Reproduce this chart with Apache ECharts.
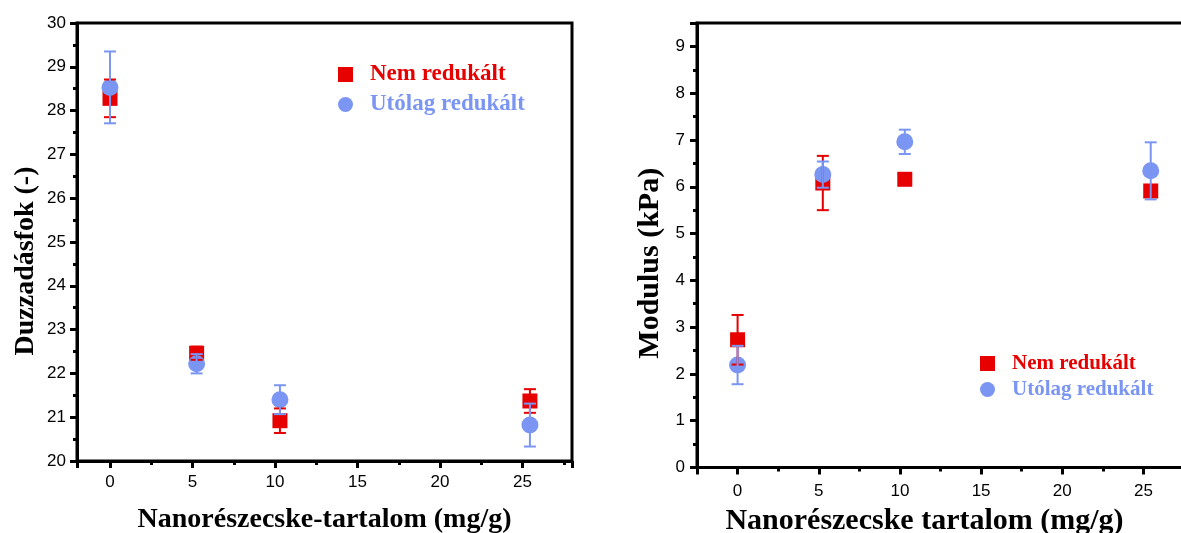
<!DOCTYPE html>
<html>
<head>
<meta charset="utf-8">
<script src="https://cdn.jsdelivr.net/npm/echarts@6/dist/echarts.min.js"></script>
<style>
  html, body { margin: 0; padding: 0; background: #fff; }
  #chart { width: 1181px; height: 533px; }
</style>
</head>
<body>
<div id="chart"></div>
<script>
// Swelling degree (left panel)
const swellX = [0, 5.25, 10.3, 25.45];
const swellNemMean = [28.28, 22.46, 20.92, 21.37];
const swellNemErr = [0.43, 0.15, 0.28, 0.27];
const swellUtoMean = [28.53, 22.22, 21.40, 20.82];
const swellUtoErr = [0.82, 0.22, 0.33, 0.49];

// Modulus (right panel)
const modX = [0, 5.25, 10.3, 25.45];
const modNemMean = [2.73, 6.08, 6.16, 5.91];
const modNemErr = [0.53, 0.58, 0.08, 0.12];
const modUtoMean = [2.19, 6.26, 6.96, 6.34];
const modUtoErr = [0.41, 0.28, 0.26, 0.61];

// Tick values
const xMajorTicks = [0, 5, 10, 15, 20, 25];
const xMinorTicks = [2.5, 7.5, 12.5, 17.5, 22.5, 27.5];
const swellYMajor = [20, 21, 22, 23, 24, 25, 26, 27, 28, 29, 30];
const swellYMinor = [20.5, 21.5, 22.5, 23.5, 24.5, 25.5, 26.5, 27.5, 28.5, 29.5];
const modYMajor = [0, 1, 2, 3, 4, 5, 6, 7, 8, 9];
const modYMinor = [0.5, 1.5, 2.5, 3.5, 4.5, 5.5, 6.5, 7.5, 8.5];

const seriesNames = ['Nem redukált', 'Utólag redukált'];
const RED = '#e60000';
const BLUE = '#7b95f2';
const SERIF = "'Liberation Serif', 'Times New Roman', serif";
const SANS = "'Liberation Sans', Arial, sans-serif";

const pairs = (xs, ys) => xs.map((x, i) => [x, ys[i]]);
const errRows = (xs, m, e) => xs.map((x, i) => [x, m[i] - e[i], m[i] + e[i]]);

function errorBar(color) {
  return function (params, api) {
    const x = api.value(0);
    const lo = api.coord([x, api.value(1)]);
    const hi = api.coord([x, api.value(2)]);
    const cap = 6;
    const st = { stroke: color, lineWidth: 2 };
    return {
      type: 'group',
      children: [
        { type: 'line', shape: { x1: lo[0], y1: lo[1], x2: hi[0], y2: hi[1] }, style: st },
        { type: 'line', shape: { x1: lo[0] - cap, y1: lo[1], x2: lo[0] + cap, y2: lo[1] }, style: st },
        { type: 'line', shape: { x1: hi[0] - cap, y1: hi[1], x2: hi[0] + cap, y2: hi[1] }, style: st }
      ]
    };
  };
}

const titleStyle = (size, pad) => ({ fontFamily: SERIF, fontWeight: 'bold', fontSize: size, color: '#000', padding: pad });

// axis carrying the line, major ticks, tick labels and title
function labelAxis(dim, gridIndex, min, max, step, labels, name, size, gap, pad, margin) {
  const a = {
    type: 'value', gridIndex, position: dim === 'x' ? 'bottom' : 'left', min, max,
    splitLine: { show: false },
    axisLine: { show: true, onZero: false, lineStyle: { color: '#000', width: 3 } },
    axisTick: { show: true, length: 7, lineStyle: { color: '#000', width: 3 } },
    axisLabel: { show: true, customValues: labels, margin, color: '#000', fontFamily: SANS, fontSize: 17 },
    name, nameLocation: 'middle', nameGap: gap, nameTextStyle: titleStyle(size, pad)
  };
  if (step) a.interval = step; else a.splitNumber = 6;
  if (dim === 'y') a.nameRotate = 90;
  return a;
}
// axis carrying only the minor tick marks
function tickAxis(dim, gridIndex, min, max, ticks, len) {
  return {
    type: 'value', gridIndex, position: dim === 'x' ? 'bottom' : 'left', min, max,
    splitLine: { show: false },
    axisLine: { show: false, onZero: false },
    axisTick: { show: true, customValues: ticks, length: len, lineStyle: { color: '#000', width: 3 } },
    axisLabel: { show: false }
  };
}

function legendBox(left, top, fontSize, gap) {
  return {
    orient: 'vertical', left, top,
    itemWidth: 15, itemHeight: 15, itemGap: gap,
    selectedMode: false,
    textStyle: { fontFamily: SERIF, fontWeight: 'bold', fontSize, lineHeight: fontSize, padding: [0, 0, 0, 12] },
    data: [
      { name: seriesNames[0], textStyle: { color: RED } },
      { name: seriesNames[1], textStyle: { color: BLUE } }
    ]
  };
}

function markSeries(name, xi, symbol, size, color, z, data) {
  return { name, type: 'scatter', xAxisIndex: xi, yAxisIndex: xi, symbol, symbolSize: size,
    itemStyle: { color, opacity: 1 }, z, data };
}
function errSeries(name, xi, color, z, data) {
  return { name, type: 'custom', xAxisIndex: xi, yAxisIndex: xi, z, renderItem: errorBar(color), data };
}

const chart = echarts.init(document.getElementById('chart'), null, { renderer: 'canvas' });
chart.setOption({
  backgroundColor: '#fff',
  animation: false,
  grid: [
    { left: 77, top: 23, width: 495, height: 438, show: true, borderColor: '#000', borderWidth: 3, outerBoundsMode: 'none' },
    { left: 697, top: 23, width: 487, height: 444.5, show: true, borderColor: '#000', borderWidth: 3, outerBoundsMode: 'none' }
  ],
  legend: [legendBox(333, 58, 23, 7), legendBox(975, 348, 21, 5)],
  xAxis: [
    labelAxis('x', 0, -2, 28, null, xMajorTicks, 'Nanorészecske-tartalom (mg/g)', 28, 45, [0, 0, 0, 0], 13),
    tickAxis('x', 0, -2, 28, xMinorTicks, 4),
    labelAxis('x', 1, -2.5, 27.5, null, xMajorTicks, 'Nanorészecske tartalom (mg/g)', 30, 39, [0, 32, 0, 0], 15),
    tickAxis('x', 1, -2.5, 27.5, xMinorTicks, 4)
  ],
  yAxis: [
    labelAxis('y', 0, 20, 30, 1, swellYMajor, 'Duzzadásfok (-)', 28, 37, [0, 38, 0, 0], 11),
    tickAxis('y', 0, 20, 30, swellYMinor, 4),
    labelAxis('y', 1, 0, 9.5, 1, modYMajor, 'Modulus (kPa)', 30, 32, [0, 36, 0, 0], 12),
    tickAxis('y', 1, 0, 9.5, modYMinor, 4)
  ],
  series: [
    markSeries(seriesNames[0], 0, 'rect', 15, RED, 2, pairs(swellX, swellNemMean)),
    markSeries(seriesNames[1], 0, 'circle', 17, BLUE, 3, pairs(swellX, swellUtoMean)),
    errSeries('err-nem-1', 0, RED, 4, errRows(swellX, swellNemMean, swellNemErr)),
    errSeries('err-uto-1', 0, BLUE, 5, errRows(swellX, swellUtoMean, swellUtoErr)),

    markSeries(seriesNames[0], 2, 'rect', 15, RED, 2, pairs(modX, modNemMean)),
    markSeries(seriesNames[1], 2, 'circle', 17, BLUE, 3, pairs(modX, modUtoMean)),
    errSeries('err-nem-2', 2, RED, 4, errRows(modX, modNemMean, modNemErr)),
    errSeries('err-uto-2', 2, BLUE, 5, errRows(modX, modUtoMean, modUtoErr))
  ]
});
</script>
</body>
</html>
